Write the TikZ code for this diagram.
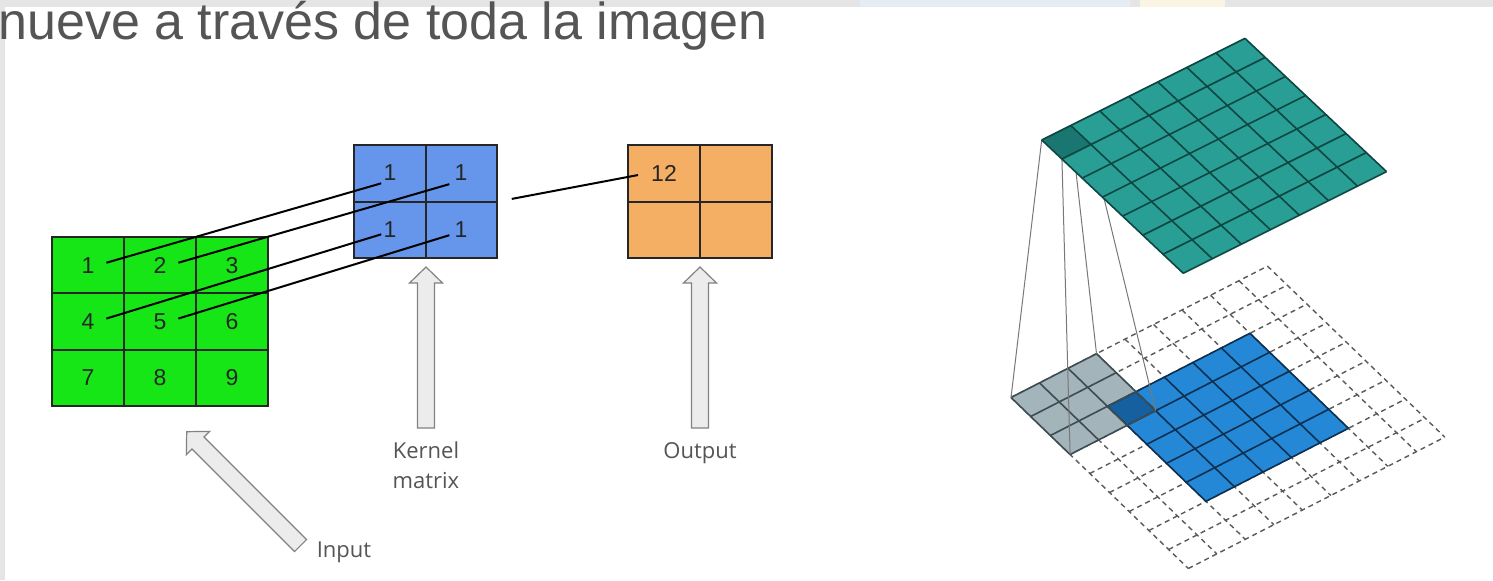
\documentclass[tikz,border=0pt]{standalone}
\usepackage{fontspec}
\setmainfont{Liberation Sans}
\newfontfamily\labelfont{Open Sans}
\usetikzlibrary{calc}
\definecolor{bandgray}{RGB}{229,229,229}
\definecolor{bandblue}{RGB}{230,236,244}
\definecolor{bandcream}{RGB}{250,244,226}
\definecolor{titlegray}{RGB}{85,85,85}
\definecolor{ingreen}{RGB}{22,230,22}
\definecolor{kblue}{RGB}{101,150,235}
\definecolor{oorange}{RGB}{245,175,100}
\definecolor{numgray}{RGB}{38,38,38}
\definecolor{lblgray}{RGB}{85,85,85}
\definecolor{arrowgray}{RGB}{130,130,130}
\definecolor{arrowfill}{RGB}{236,236,236}
\definecolor{teal3}{RGB}{40,158,148}
\definecolor{tealdark}{RGB}{26,118,112}
\definecolor{tealline}{RGB}{14,70,66}
\definecolor{blue3}{RGB}{36,136,214}
\definecolor{bluedark}{RGB}{22,96,160}
\definecolor{blueline}{RGB}{14,48,80}
\definecolor{kgray}{RGB}{163,180,187}
\definecolor{kline}{RGB}{60,76,82}
\definecolor{dashgray}{RGB}{90,90,90}
\definecolor{projgray}{RGB}{120,120,120}
\tikzset{
  boxstyle/.style={draw=black!85, line width=1pt, inner sep=0pt},
  cellline/.style={draw=black!85, line width=1pt},
  num/.style={font=\fontsize{11.5pt}{13pt}\selectfont, text=numgray, inner sep=1pt},
  conn/.style={draw=black, line width=1pt},
  barrow/.style={draw=arrowgray, fill=arrowfill, line width=0.6pt, line join=miter},
  lbl/.style={font=\labelfont\fontsize{11pt}{15pt}\selectfont, text=lblgray, inner sep=0pt, align=center},
  dashgrid/.style={draw=dashgray, line width=0.7pt, dash pattern=on 2.5pt off 2pt},
  projline/.style={draw=projgray, line width=0.5pt},
  blockarrow/.pic={\draw[barrow] (0,0) -- (-16,16.5) -- (-16,8.5) -- (-161,8.5) -- (-161,-8.5) -- (-16,-8.5) -- (-16,-16.5) -- cycle;}
}
\begin{document}
\begin{tikzpicture}[x=0.5pt,y=0.5pt]
\useasboundingbox (0,0) rectangle (1493,-580);
\fill[white] (0,0) rectangle (1493,-580);
% screenshot edges
\fill[bandgray] (0,0) rectangle (1493,-7);
\fill[bandblue] (860,0) rectangle (1130,-7);
\fill[bandcream] (1140,0) rectangle (1225,-7);
\fill[bandgray] (0,-7) rectangle (5,-580);
% title
\node[anchor=base west, inner sep=0pt, text=titlegray, font=\fontsize{26pt}{30pt}\selectfont] (title) at (-2,-39) {nueve a través de toda la imagen};

% ---------- input matrix ----------
\node[boxstyle, fill=ingreen, minimum width=108pt, minimum height=84.5pt] (inbox) at (160,-321.5) {};
\foreach \f in {1/3,2/3}{
  \draw[cellline] ($(inbox.north west)!\f!(inbox.north east)$) -- ($(inbox.south west)!\f!(inbox.south east)$);
  \draw[cellline] ($(inbox.north west)!\f!(inbox.south west)$) -- ($(inbox.north east)!\f!(inbox.south east)$);
}
\node[num] (g1) at (88,-265.5) {1};
\node[num] (g2) at (160,-265.5) {2};
\node[num] (g3) at (232,-265.5) {3};
\node[num] (g4) at (88,-321.5) {4};
\node[num] (g5) at (160,-321.5) {5};
\node[num] (g6) at (232,-321.5) {6};
\node[num] (g7) at (88,-377.5) {7};
\node[num] (g8) at (160,-377.5) {8};
\node[num] (g9) at (232,-377.5) {9};

% ---------- kernel ----------
\node[boxstyle, fill=kblue, minimum width=71.5pt, minimum height=56.5pt] (kbox) at (425.5,-201.5) {};
\draw[cellline] (kbox.north) -- (kbox.south);
\draw[cellline] (kbox.west) -- (kbox.east);
\node[num] (k1) at (390,-173) {1};
\node[num] (k2) at (461,-173) {1};
\node[num] (k3) at (390,-230) {1};
\node[num] (k4) at (461,-230) {1};

% ---------- output ----------
\node[boxstyle, fill=oorange, minimum width=72pt, minimum height=56.5pt] (obox) at (700,-201.5) {};
\draw[cellline] (obox.north) -- (obox.south);
\draw[cellline] (obox.west) -- (obox.east);
\node[num] (o1) at (664,-173) {12};

% ---------- connectors ----------
\draw[conn, shorten <=5pt] (g1.east) -- (k1.south west);
\draw[conn, shorten <=5pt, shorten >=1.5pt] (g2.east) -- (k2.south west);
\draw[conn, shorten <=5pt] (g4.east) -- ([yshift=3pt]k3.south west);
\draw[conn, shorten <=5pt, shorten >=1.5pt] (g5.east) -- ([yshift=3pt]k4.south west);
\draw[conn, shorten <=7pt, shorten >=5.5pt] (kbox.east) -- (o1.west);

% ---------- block arrows & labels ----------
\pic[rotate=90] at (426,-267) {blockarrow};
\pic[rotate=90] at (700,-267) {blockarrow};
\pic[rotate=135] at (186.7,-431.7) {blockarrow};
\node[lbl, anchor=north] (klabel) at (426,-441) {Kernel\\matrix};
\node[lbl, anchor=base] (olabel) at (700,-458) {Output};
\node[lbl, anchor=base] (ilabel) at (344,-557) {Input};

% ---------- right: padded input, kernel, output ----------
\begin{scope}[shift={(505.5pt,-198.75pt)}, x={(14.25pt,7.3pt)}, y={(9.85pt,-9.5pt)}]
  \foreach \i in {0,...,9}{
    \draw[dashgrid] (\i,0) -- (\i,9);
    \draw[dashgrid] (0,\i) -- (9,\i);
  }
  \fill[blue3] (2,2) -- (7,2) -- (7,7) -- (2,7) -- cycle;
  \fill[kgray] (0,0) -- (3,0) -- (3,3) -- (0,3) -- cycle;
  \fill[bluedark] (2,2) -- (3,2) -- (3,3) -- (2,3) -- cycle;
  \foreach \i in {2,...,7}{
    \draw[blueline, line width=0.8pt] (\i,2) -- (\i,7);
    \draw[blueline, line width=0.8pt] (2,\i) -- (7,\i);
  }
  \foreach \i in {0,...,3}{
    \draw[kline, line width=0.8pt] (\i,0) -- (\i,3);
    \draw[kline, line width=0.8pt] (0,\i) -- (3,\i);
  }
  \coordinate (kL) at (0,0);
  \coordinate (kT) at (3,0);
  \coordinate (kB) at (0,3);
  \coordinate (kR) at (3,3);
\end{scope}
\begin{scope}[shift={(520.85pt,-70pt)}, x={(14.52pt,7.26pt)}, y={(10.11pt,-9.52pt)}]
  \coordinate (tL) at (0,0);
  \coordinate (tT) at (1,0);
  \coordinate (tB) at (0,1);
  \coordinate (tR) at (1,1);
\end{scope}
\draw[projline] (tL) -- (kL);
\draw[projline] (tT) -- (kT);
\draw[projline] (tB) -- (kB);
\draw[projline] (tR) -- (kR);
\begin{scope}[shift={(520.85pt,-70pt)}, x={(14.52pt,7.26pt)}, y={(10.11pt,-9.52pt)}]
  \fill[teal3] (0,0) -- (7,0) -- (7,7) -- (0,7) -- cycle;
  \fill[tealdark] (0,0) -- (1,0) -- (1,1) -- (0,1) -- cycle;
  \foreach \i in {0,...,7}{
    \draw[tealline, line width=0.8pt] (\i,0) -- (\i,7);
    \draw[tealline, line width=0.8pt] (0,\i) -- (7,\i);
  }
\end{scope}
\end{tikzpicture}
\end{document}
